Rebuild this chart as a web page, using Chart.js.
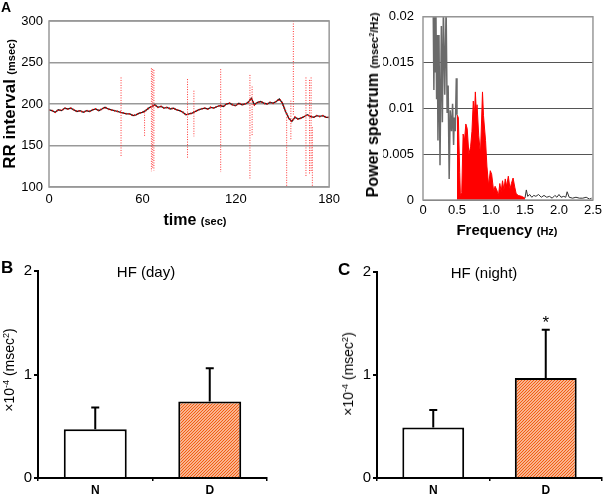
<!DOCTYPE html>
<html><head><meta charset="utf-8">
<script src="https://cdn.jsdelivr.net/npm/chart.js@4"></script>
<style>
body{margin:0;background:#fff;}
#wrap{position:relative;width:605px;height:494px;overflow:hidden;font-family:Arial,"Liberation Sans",sans-serif;color:#000;}
canvas{position:absolute;}
.t{position:absolute;white-space:nowrap;line-height:1;}
.c{transform:translate(-50%,-50%);}
.r{transform:translate(-50%,-50%) rotate(-90deg);}
sup{font-size:65%;vertical-align:0.55em;line-height:0;}
</style></head><body>
<div id="wrap">
<canvas id="c1" width="345" height="230" style="left:0;top:0"></canvas>
<canvas id="c2" width="260" height="240" style="left:345px;top:0"></canvas>
<canvas id="c3" width="300" height="244" style="left:0;top:250px"></canvas>
<canvas id="c4" width="265" height="244" style="left:340px;top:250px"></canvas>

<div class="t" style="left:1px;top:0px;font-weight:bold;font-size:14px">A</div>
<div class="t" style="left:1px;top:259px;font-weight:bold;font-size:17px">B</div>
<div class="t" style="left:338px;top:261px;font-weight:bold;font-size:17px">C</div>

<div class="t r" style="left:9px;top:104px;font-weight:bold"><span style="font-size:17px">RR interval</span> <span style="font-size:11px">(msec)</span></div>
<div class="t c" style="left:195px;top:220px;font-weight:bold"><span style="font-size:16px">time</span> <span style="font-size:11px">(sec)</span></div>
<div class="t r" style="left:373px;top:105px;font-weight:bold"><span style="font-size:16px">Power spectrum</span> <span style="font-size:11px">(msec<sup>2</sup>/Hz)</span></div>
<div class="t c" style="left:507px;top:230px;font-weight:bold"><span style="font-size:15px">Frequency</span> <span style="font-size:11px">(Hz)</span></div>

<div class="t c" style="left:146px;top:271px;font-size:15px">HF (day)</div>
<div class="t c" style="left:484px;top:272px;font-size:15px">HF (night)</div>
<div class="t r" style="left:9px;top:370px;font-size:14px">×10<sup>-4</sup> (msec<sup>2</sup>)</div>
<div class="t r" style="left:348px;top:374px;font-size:14px">×10<sup>-4</sup> (msec<sup>2</sup>)</div>
</div>
<script>
// ---------- Panel A (left): RR interval time series ----------
const rrTimes = [0,2,4,6,8,10,12,14,16,18,20,22,24,26,28,30,32,34,36,38,40,42,44,46,48,50,52,54,56,58,60,62,64,66,68,70,72,74,76,78,80,82,84,86,88,90,92,94,96,98,100,102,104,106,108,110,112,114,116,118,120,122,124,126,128,130,132,134,136,138,140,142,144,146,148,150,152,154,156,158,160,162,164,166,168,170,172,174,176,178,180];
const rrValues = [193,192,190,193,192,195,194,195,193,191,192,190,192,191,193,194,192,194,196,194,193,192,191,190,189,188,188,186,187,189,190,192,195,197,199,196,197,195,196,194,195,193,192,190,187,188,189,191,193,194,195,194,196,195,197,198,197,200,201,199,198,201,199,200,202,207,199,202,203,201,200,202,201,203,206,201,191,183,179,184,182,183,185,187,185,184,186,185,186,184,184];
const spikeTimes   = [46.3,61.4,65.8,66.6,67.4,89.0,93.1,110.3,129.1,130.5,152.7,155.4,157.0,165.1,167.4,168.4,169.2];
const spikeTops    = [232,190,243,242,241,230,216,242,235,221,184,204,300,232,229,232,172];
const spikeBottoms = [136,160,119,122,120,135,161,118,109,161,100,156,186,113,116,118,100];
const rrTicks = [100,150,200,250,300];

// ---------- Panel A (right): power spectrum ----------
const specGrayF = [0.15,0.16,0.17,0.18,0.19,0.20,0.21,0.22,0.235,0.25,0.27,0.285,0.30,0.32,0.34,0.355,0.37,0.385,0.40,0.42,0.435,0.45,0.46,0.475,0.49,0.50];
const specGrayV = [0.021,0.012,0.021,0.014,0.021,0.011,0.018,0.0065,0.018,0.0038,0.019,0.0085,0.021,0.0115,0.021,0.0095,0.0125,0.0023,0.0098,0.0075,0.0105,0.006,0.009,0.0075,0.0133,0.0093];
const specRedF = [0.50,0.52,0.54,0.55,0.57,0.59,0.61,0.63,0.65,0.675,0.70,0.72,0.74,0.755,0.77,0.785,0.795,0.82,0.845,0.86,0.875,0.89,0.92,0.94,0.965,0.99,1.01,1.04,1.06,1.085,1.11,1.13,1.15,1.17,1.19,1.21,1.23,1.255,1.28,1.30,1.325,1.35,1.37,1.40,1.45,1.50];
const specRedV = [0.0093,0.009,0.003,0.0005,0.0008,0.0072,0.0065,0.0083,0.0078,0.005,0.0058,0.0075,0.0108,0.009,0.0118,0.0095,0.0104,0.007,0.005,0.0083,0.0118,0.0092,0.0065,0.0037,0.0016,0.0032,0.0028,0.0009,0.0015,0.0011,0.0005,0.0018,0.0009,0.0021,0.0011,0.0023,0.0015,0.0026,0.0012,0.0018,0.0024,0.0014,0.0007,0.0005,0.0004,0.0002];
const specTailF = [1.50,1.52,1.54,1.57,1.60,1.63,1.66,1.70,1.74,1.78,1.82,1.86,1.90,1.94,1.97,2.00,2.03,2.07,2.10,2.12,2.15,2.20,2.25,2.30,2.35,2.40,2.45,2.48];
const specTailV = [0.0002,0.0011,0.0004,0.0006,0.0003,0.0005,0.0004,0.0006,0.0003,0.0005,0.0003,0.0004,0.0002,0.0005,0.0003,0.0006,0.0003,0.0004,0.0003,0.0009,0.0003,0.0002,0.0003,0.0002,0.0002,0.0003,0.0001,0.0002];

// ---------- Panels B / C: HF bars ----------
const groups = ['N','D'];
const dayMeans = [0.47,0.74];
const dayErrTops = [0.68,1.06];
const nightMeans = [0.49,0.97];
const nightErrTops = [0.66,1.44];
const nightMarks = ['','*'];
const barTicks = [0,1,2];

const FONT = 'Arial, "Liberation Sans", sans-serif';
Chart.defaults.font.family = FONT;
Chart.defaults.color = '#000';
Chart.defaults.animation = false;
Chart.defaults.responsive = false;
Chart.defaults.plugins.legend.display = false;
Chart.defaults.plugins.tooltip.enabled = false;

const framePlugin = {
  id:'frame',
  afterDraw(chart, args, opts){
    const a = chart.chartArea, ctx = chart.ctx;
    ctx.save(); ctx.strokeStyle = opts.color || '#999'; ctx.lineWidth = opts.width || 1.5;
    ctx.strokeRect(a.left, a.top, a.right-a.left, a.bottom-a.top);
    ctx.restore();
  }
};

const zip = (xs, ys) => xs.map((x,i)=>({x:x, y:ys[i]}));

// time series
const spikeData = [];
spikeTimes.forEach((t,i)=>{
  spikeData.push({x:t,y:spikeTops[i]},{x:t,y:spikeBottoms[i]},{x:t,y:null});
});

new Chart(document.getElementById('c1'), {
  type:'scatter',
  data:{datasets:[
    {data:zip(rrTimes, rrValues), showLine:true, borderColor:'#f00', borderWidth:1.8, borderDash:[1,2], pointRadius:0},
    {data:spikeData, showLine:true, spanGaps:false, borderColor:'#f33', borderWidth:1, borderDash:[1,1.5], pointRadius:0},
    {data:zip(rrTimes, rrValues), showLine:true, borderColor:'#222', borderWidth:1.3, pointRadius:0}
  ]},
  options:{
    layout:{padding:{left:5,right:6,top:21,bottom:17}},
    scales:{
      x:{type:'linear', min:0, max:180, afterFit(s){s.height=26;},
         ticks:{stepSize:60, font:{size:13}, padding:5, maxRotation:0},
         grid:{display:false, drawTicks:false}, border:{display:false}},
      y:{min:100, max:300, afterFit(s){s.width=44;},
         afterBuildTicks(s){s.ticks = rrTicks.map(v=>({value:v}));},
         ticks:{font:{size:13}, padding:6},
         grid:{color:'#999', lineWidth:1.5, drawTicks:false}, border:{display:false}}
    },
    plugins:{frame:{color:'#999', width:1.5}}
  },
  plugins:[framePlugin]
});

// spectrum
new Chart(document.getElementById('c2'), {
  type:'scatter',
  data:{datasets:[
    {data:zip(specGrayF, specGrayV), showLine:true, borderColor:'#6a6a6a', borderWidth:1.5, pointRadius:0},
    {data:zip(specRedF, specRedV), showLine:true, borderColor:'#f00', backgroundColor:'#f00', borderWidth:1, fill:'origin', pointRadius:0},
    {data:zip(specTailF, specTailV), showLine:true, borderColor:'#333', borderWidth:1, pointRadius:0}
  ]},
  options:{
    layout:{padding:{left:38,right:9,top:11,bottom:14}},
    scales:{
      x:{type:'linear', min:0, max:2.5, afterFit(s){s.height=26;},
         ticks:{stepSize:0.5, font:{size:13}, padding:3, maxRotation:0},
         grid:{display:false, drawTicks:false}, border:{display:false}},
      y:{min:0, max:0.02, afterFit(s){s.width=40;},
         ticks:{stepSize:0.005, font:{size:13}, padding:9, callback:v=>String(parseFloat(v.toFixed(4)))},
         grid:{color:'#555', lineWidth:1, drawTicks:false}, border:{display:false}}
    },
    plugins:{frame:{color:'#999', width:1.5}}
  },
  plugins:[framePlugin]
});

// hatch pattern
function hatch(){
  const p = document.createElement('canvas'); p.width = 3; p.height = 3;
  const g = p.getContext('2d');
  g.fillStyle = '#fff'; g.fillRect(0,0,3,3);
  g.strokeStyle = '#F25E12'; g.lineWidth = 1.35;
  g.beginPath();
  g.moveTo(0,3); g.lineTo(3,0);
  g.moveTo(-1,1); g.lineTo(1,-1);
  g.moveTo(2,4); g.lineTo(4,2);
  g.stroke();
  return g.createPattern(p,'repeat');
}

const errPlugin = {
  id:'errbars',
  afterDatasetsDraw(chart, args, opts){
    const ctx = chart.ctx, ys = chart.scales.y;
    const meta = chart.getDatasetMeta(0);
    ctx.save(); ctx.strokeStyle = '#000'; ctx.lineWidth = 2; ctx.fillStyle = '#000';
    meta.data.forEach((bar,i)=>{
      const y1 = ys.getPixelForValue(opts.tops[i]);
      ctx.beginPath();
      ctx.moveTo(bar.x, bar.y); ctx.lineTo(bar.x, y1);
      ctx.moveTo(bar.x-4, y1); ctx.lineTo(bar.x+4, y1);
      ctx.stroke();
      if (opts.marks && opts.marks[i]) {
        ctx.font = '17px ' + FONT; ctx.textAlign = 'center'; ctx.textBaseline = 'middle';
        ctx.fillText(opts.marks[i], bar.x, y1 - 6);
      }
    });
    ctx.restore();
  }
};

function barChart(id, means, tops, marks, pad){
  new Chart(document.getElementById(id), {
    type:'bar',
    data:{labels:groups, datasets:[{data:means, backgroundColor:['#fff', hatch()], borderColor:'#000', borderWidth:2, borderSkipped:'bottom', barPercentage:0.55, categoryPercentage:1}]},
    options:{
      layout:{padding:pad},
      scales:{
        x:{afterFit(s){s.height=16;}, ticks:{font:{size:12, weight:'bold'}, padding:2},
           grid:{drawOnChartArea:false, tickLength:3, color:'#000', lineWidth:1.5}, border:{color:'#000', width:2}},
        y:{min:0, max:2, afterFit(s){s.width=20;},
           afterBuildTicks(s){s.ticks = barTicks.map(v=>({value:v}));},
           ticks:{font:{size:15}, padding:2},
           grid:{drawOnChartArea:false, tickLength:4, color:'#000', lineWidth:2}, border:{color:'#000', width:2}}
      },
      plugins:{errbars:{tops:tops, marks:marks}}
    },
    plugins:[errPlugin]
  });
}
barChart('c3', dayMeans, dayErrTops, null, {left:18, right:33, top:21, bottom:0});
barChart('c4', nightMeans, nightErrTops, nightMarks, {left:17, right:3, top:22, bottom:0});
</script>
</body></html>
